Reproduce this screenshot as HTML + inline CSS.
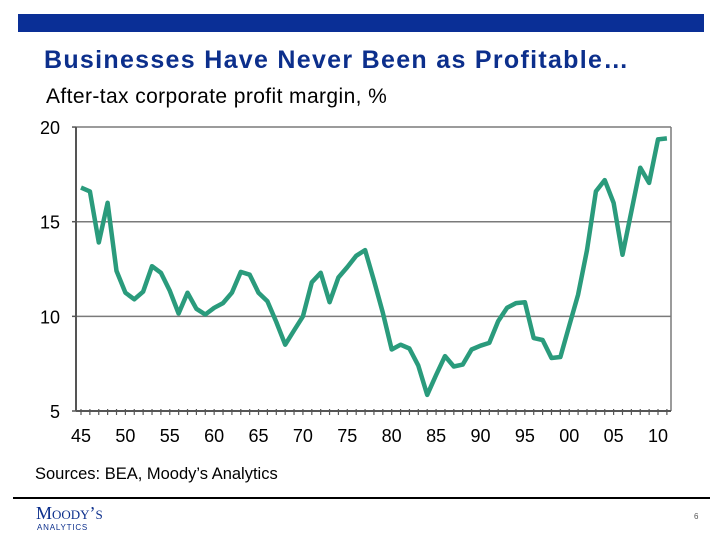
<!DOCTYPE html>
<html><head><meta charset="utf-8"><style>
body{margin:0;width:720px;height:540px;background:#fff;overflow:hidden;position:relative;font-family:"Liberation Sans",sans-serif}
.abs{position:absolute;white-space:nowrap}
</style></head><body>
<div class="abs" style="left:18px;top:14px;width:686px;height:18px;background:#0a2f96"></div>
<div class="abs" style="left:44px;top:46px;font-size:25px;font-weight:bold;color:#0c2f8c;letter-spacing:1.3px">Businesses Have Never Been as Profitable…</div>
<div class="abs" style="left:46px;top:85px;font-size:21px;color:#000;letter-spacing:0.4px">After-tax corporate profit margin, %</div>
<svg class="abs" style="left:0;top:0" width="720" height="540">
<g id="grid"></g><g id="axes"></g><path id="line" fill="none" stroke="#2a9b7c" stroke-width="4.5" stroke-linejoin="round"/>
</svg>
<div class="abs" style="left:35px;top:465px;font-size:16.5px;color:#000">Sources: BEA, Moody’s Analytics</div>
<div class="abs" style="left:13px;top:497px;width:697px;height:2px;background:#000"></div>
<div class="abs" style="left:36px;top:503px;font-family:'Liberation Serif',serif;font-size:18px;color:#0c2f8c;font-variant:small-caps">Moody’s</div>
<div class="abs" style="left:37px;top:523px;font-size:8px;color:#0c2f8c;letter-spacing:0.8px">ANALYTICS</div>
<div class="abs" style="left:694px;top:512px;font-size:8px;color:#555">6</div>
<script>
const years=[];for(let y=1945;y<=2011;y++)years.push(y);
const margins=[16.8,16.6,13.9,16.0,12.4,11.25,10.9,11.3,12.65,12.3,11.35,10.15,11.25,10.4,10.1,10.45,10.7,11.25,12.35,12.2,11.25,10.8,9.7,8.5,9.25,10.0,11.8,12.3,10.75,12.05,12.6,13.2,13.5,11.9,10.2,8.25,8.5,8.3,7.4,5.85,6.9,7.9,7.35,7.45,8.25,8.45,8.6,9.75,10.45,10.7,10.75,8.85,8.75,7.8,7.85,9.5,11.15,13.5,16.6,17.2,16.0,13.25,15.55,17.85,17.05,19.35,19.4];
const yTicks=[5,10,15,20];
const xTickYears=[1945,1950,1955,1960,1965,1970,1975,1980,1985,1990,1995,2000,2005,2010];
const xLabels=["45","50","55","60","65","70","75","80","85","90","95","00","05","10"];
const X=y=>81+(y-1945)*8.877, Y=v=>411-(v-5)*18.93;
const NS="http://www.w3.org/2000/svg";
function mk(t,a,p){const e=document.createElementNS(NS,t);for(const k in a)e.setAttribute(k,a[k]);p.appendChild(e);return e;}
const grid=document.getElementById('grid'),axes=document.getElementById('axes');
yTicks.forEach(v=>{
 if(v>5){const l=mk('line',{x1:76,x2:671,y1:Y(v),y2:Y(v),stroke:'#7a7a7a','stroke-width':1.5},grid);
 
 }
 const t=mk('text',{x:60,y:Y(v)+7,'text-anchor':'end','font-size':18,'font-family':'Liberation Sans, sans-serif'},axes);t.textContent=v;
 
 
 mk('line',{x1:72,x2:76,y1:Y(v),y2:Y(v),stroke:'#555','stroke-width':1.5},axes);
});
const ya=mk('line',{x1:76,x2:76,y1:Y(20),y2:Y(5),stroke:'#555','stroke-width':2},axes);


const rb=mk('line',{x1:671,x2:671,y1:Y(20),y2:Y(5),stroke:'#7a7a7a','stroke-width':1.5},axes);


const xa=mk('line',{x1:76,x2:671,y1:Y(5),y2:Y(5),stroke:'#555','stroke-width':2},axes);


years.forEach(y=>mk('line',{x1:X(y),x2:X(y),y1:Y(5)-2,y2:Y(5)+4,stroke:'#555','stroke-width':1.2},axes));
xTickYears.forEach((y,i)=>{const t=mk('text',{x:X(y),y:442,'text-anchor':'middle','font-size':18,'font-family':'Liberation Sans, sans-serif'},axes);t.textContent=xLabels[i];
 
 });
document.getElementById('line').setAttribute('d',years.map((y,i)=>(i?'L':'M')+X(y).toFixed(1)+' '+Y(margins[i]).toFixed(1)).join(' '));
</script>
</body></html>
